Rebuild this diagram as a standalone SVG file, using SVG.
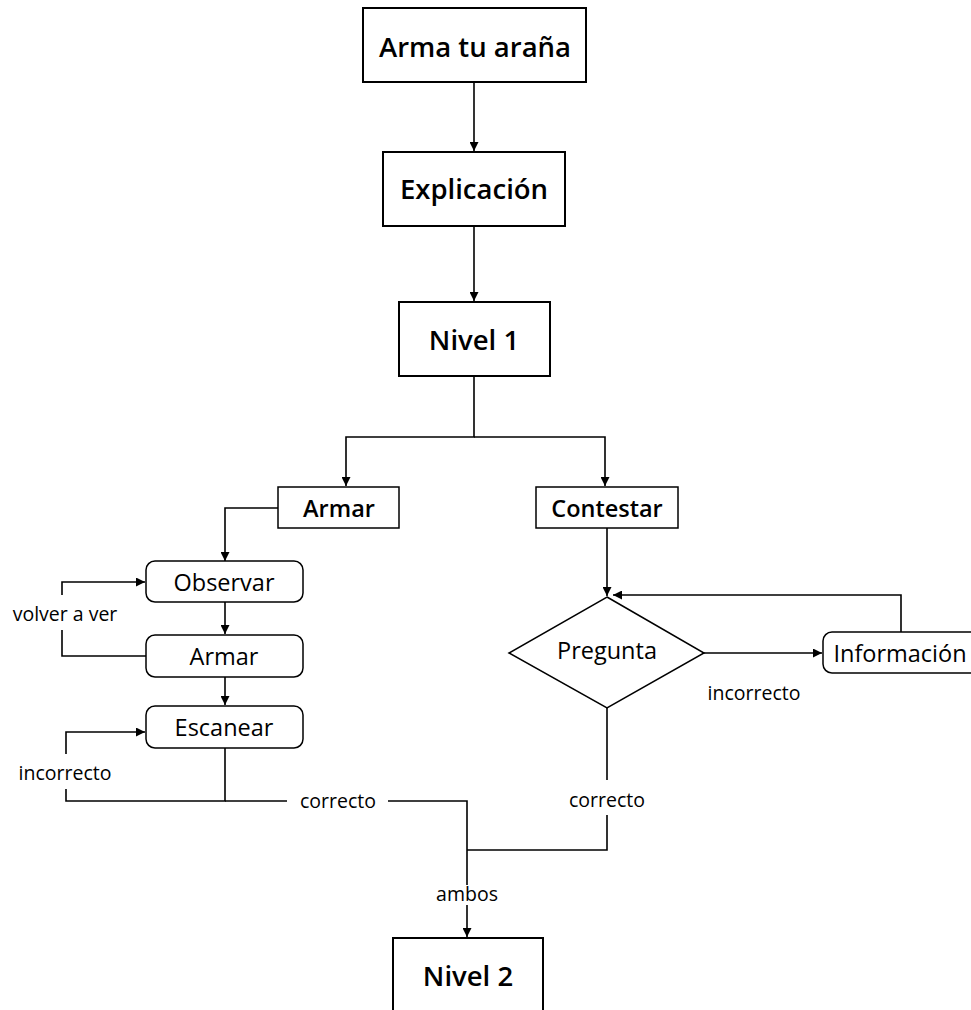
<svg xmlns="http://www.w3.org/2000/svg" width="971" height="1010" viewBox="0 0 971 1010">
<style>
.box{fill:#fff;stroke:#000;stroke-width:2}
.sbox{fill:#fff;stroke:#000;stroke-width:1.5}
.t{font-family:"Open Sans","Noto Sans",sans-serif;fill:#000;text-anchor:middle;dominant-baseline:central}
.big{font-size:27.5px;font-weight:600}
.mid{font-size:23.5px;font-weight:600}
.reg{font-size:23.5px}
.lab{font-size:19.5px}
.c{fill:none;stroke:#000;stroke-width:1.6}
</style>
<defs>
<marker id="ah" viewBox="0 0 10 10" refX="10" refY="5" markerWidth="9" markerHeight="9" markerUnits="userSpaceOnUse" orient="auto"><path d="M0,0 L10,5 L0,10 z" fill="#000"/></marker>
</defs>
<rect width="971" height="1010" fill="#fff"/>
<g id="connectors">
<path class="c" d="M474,82 V151" marker-end="url(#ah)"/>
<path class="c" d="M474,226 V301" marker-end="url(#ah)"/>
<path class="c" d="M474,376 V437 H346 V486" marker-end="url(#ah)"/>
<path class="c" d="M474,437 H605 V486" marker-end="url(#ah)"/>
<path class="c" d="M278,508 H225 V561" marker-end="url(#ah)"/>
<path class="c" d="M225,602 V634" marker-end="url(#ah)"/>
<path class="c" d="M225,677 V705" marker-end="url(#ah)"/>
<path class="c" d="M146,656 H62 V630"/>
<path class="c" d="M62,595 V582 H145" marker-end="url(#ah)"/>
<path class="c" d="M225,748 V801 H66 V789"/>
<path class="c" d="M66,754 V732 H145" marker-end="url(#ah)"/>
<path class="c" d="M225,801 H287"/>
<path class="c" d="M388,801 H467 V885"/>
<path class="c" d="M467,905 V937" marker-end="url(#ah)"/>
<path class="c" d="M467,850 H607 V815"/>
<path class="c" d="M607,708 V780"/>
<path class="c" d="M607,528 V596" marker-end="url(#ah)"/>
<path class="c" d="M704,653 H822" marker-end="url(#ah)"/>
<path class="c" d="M901,632 V595 H613" marker-end="url(#ah)"/>
<text class="t lab" x="65" y="613">volver a ver</text>
<text class="t lab" x="65" y="772">incorrecto</text>
<text class="t lab" x="338" y="800">correcto</text>
<text class="t lab" x="607" y="799">correcto</text>
<text class="t lab" x="754" y="692">incorrecto</text>
<text class="t lab" x="467" y="893">ambos</text>
</g>
<g id="n-arma"><rect class="box" x="363" y="8" width="223" height="74"/><text class="t big" x="475" y="46">Arma tu araña</text></g>
<g id="n-explicacion"><rect class="box" x="383" y="152" width="182" height="74"/><text class="t big" x="474" y="188">Explicación</text></g>
<g id="n-nivel1"><rect class="box" x="399" y="302" width="151" height="74"/><text class="t big" x="474" y="339">Nivel 1</text></g>
<g id="n-armar"><rect class="sbox" x="278" y="487" width="121" height="41"/><text class="t mid" x="339" y="508">Armar</text></g>
<g id="n-contestar"><rect class="sbox" x="536" y="487" width="142" height="41"/><text class="t mid" x="607" y="508">Contestar</text></g>
<g id="n-observar"><rect class="sbox" x="146" y="561" width="157" height="41" rx="9"/><text class="t reg" x="224" y="582">Observar</text></g>
<g id="n-armar2"><rect class="sbox" x="146" y="635" width="157" height="42" rx="9"/><text class="t reg" x="224" y="656">Armar</text></g>
<g id="n-escanear"><rect class="sbox" x="146" y="706" width="157" height="42" rx="9"/><text class="t reg" x="224" y="727">Escanear</text></g>
<g id="n-pregunta"><path class="sbox" d="M607,597 L704,653 L607,708 L509,653 Z"/><text class="t reg" x="607" y="650">Pregunta</text></g>
<g id="n-informacion"><rect class="sbox" x="823" y="632" width="160" height="41" rx="9"/><text class="t reg" x="900" y="653">Información</text></g>
<g id="n-nivel2"><rect class="box" x="393" y="938" width="150" height="80"/><text class="t big" x="468" y="975">Nivel 2</text></g>
</svg>
